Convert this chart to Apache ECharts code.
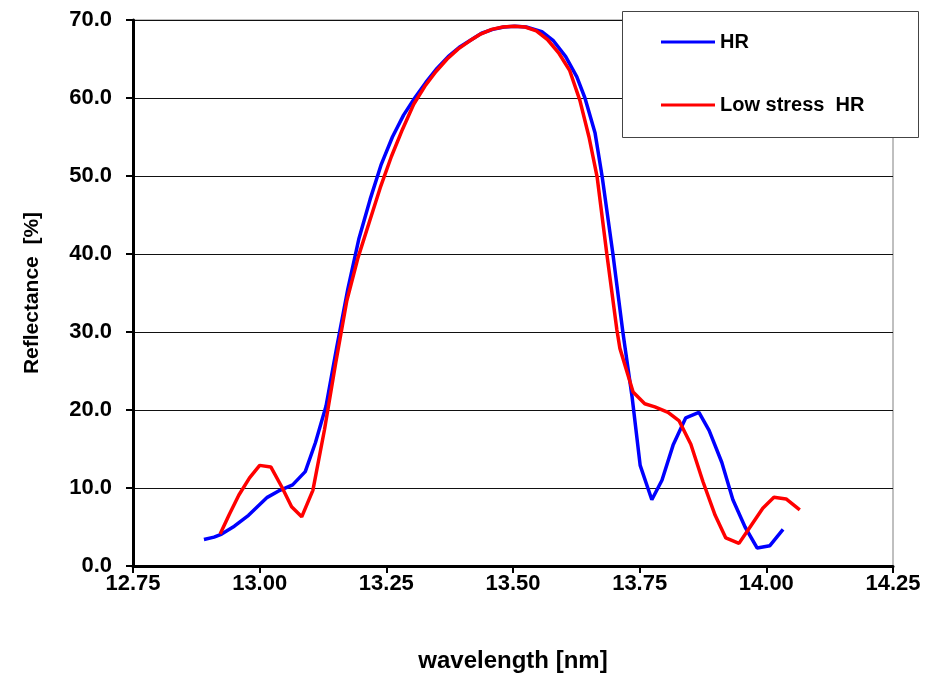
<!DOCTYPE html>
<html>
<head>
<meta charset="utf-8">
<script src="https://cdn.jsdelivr.net/npm/echarts@6/dist/echarts.min.js"></script>
<style>
  html, body { margin: 0; padding: 0; background: #fff; }
  #chart { width: 936px; height: 674px; }
</style>
</head>
<body>
<div id="chart"></div>
<script>
// wavelength [nm] / reflectance [%]
const hrWavelength = [
  12.890, 12.910, 12.925, 12.950, 12.978, 13.015, 13.040, 13.065, 13.090, 13.110,
  13.131, 13.152, 13.174, 13.196, 13.218, 13.240, 13.262, 13.284, 13.306, 13.328,
  13.350, 13.372, 13.394, 13.416, 13.438, 13.460, 13.482, 13.504, 13.526, 13.557,
  13.579, 13.604, 13.626, 13.642, 13.662, 13.676, 13.697, 13.717, 13.735, 13.751,
  13.774, 13.794, 13.816, 13.841, 13.867, 13.887, 13.912, 13.934, 13.958, 13.982,
  14.007, 14.033
];
const hrReflectance = [
  3.4, 3.7, 4.1, 5.1, 6.5, 8.8, 9.7, 10.4, 12.1, 15.8,
  20.5, 28.0, 35.5, 42.0, 47.0, 51.5, 55.0, 57.8, 60.0, 62.0,
  63.8, 65.3, 66.5, 67.4, 68.3, 68.8, 69.1, 69.2, 69.1, 68.5,
  67.4, 65.3, 62.7, 60.0, 55.5, 49.9, 40.1, 29.9, 21.7, 12.9,
  8.5, 11.0, 15.5, 19.0, 19.7, 17.4, 13.3, 8.5, 5.0, 2.3,
  2.6, 4.7
];

const lowStressWavelength = [
  12.922, 12.940, 12.959, 12.980, 13.000, 13.022, 13.044, 13.063, 13.083, 13.105,
  13.128, 13.150, 13.172, 13.194, 13.216, 13.238, 13.260, 13.282, 13.304, 13.326,
  13.348, 13.370, 13.392, 13.414, 13.436, 13.458, 13.480, 13.502, 13.524, 13.546,
  13.568, 13.590, 13.612, 13.632, 13.650, 13.666, 13.685, 13.705, 13.711, 13.737,
  13.760, 13.780, 13.806, 13.828, 13.851, 13.875, 13.899, 13.920, 13.946, 13.969,
  13.993, 14.015, 14.039, 14.066
];
const lowStressReflectance = [
  4.1, 6.6, 9.1, 11.3, 12.9, 12.7, 10.1, 7.6, 6.3, 9.7,
  17.5, 26.0, 34.0, 39.5, 44.0, 48.5, 52.5, 56.0, 59.2, 61.5,
  63.4, 65.0, 66.3, 67.3, 68.2, 68.8, 69.1, 69.2, 69.1, 68.6,
  67.5, 65.8, 63.5, 59.7, 55.0, 49.9, 40.1, 30.3, 27.9, 22.3,
  20.8, 20.4, 19.7, 18.6, 15.6, 10.8, 6.5, 3.6, 2.9, 5.1,
  7.4, 8.8, 8.6, 7.2
];

const seriesNames = ['HR', 'Low stress  HR'];

const chart = echarts.init(document.getElementById('chart'));

const option = {
  backgroundColor: '#fff',
  animation: false,
  grid: {
    left: 133,
    right: 43,
    top: 20,
    bottom: 108,
    outerBoundsMode: 'none',
    containLabel: false,
    show: true,
    borderColor: '#808080',
    borderWidth: 1
  },
  legend: {
    data: seriesNames.map(n => ({ name: n, icon: 'rect' })),
    orient: 'vertical',
    left: 661,
    top: 32,
    padding: 0,
    itemWidth: 54,
    itemHeight: 3,
    itemGap: 43,
    z: 12,
    textStyle: {
      fontFamily: 'Liberation Sans, Arial',
      fontWeight: 'bold',
      fontSize: 20,
      lineHeight: 20,
      color: '#000'
    }
  },
  graphic: [
    {
      type: 'rect',
      shape: { x: 622.5, y: 11.5, width: 296, height: 126 },
      style: { fill: '#fff', stroke: '#444', lineWidth: 1 },
      z: 10
    }
  ],
  xAxis: {
    type: 'value',
    min: 12.75,
    max: 14.25,
    interval: 0.25,
    name: 'wavelength [nm]',
    nameLocation: 'middle',
    nameGap: 83,
    nameTextStyle: {
      fontFamily: 'Liberation Sans Narrow, Arial Narrow, Liberation Sans',
      fontWeight: 'bold',
      fontSize: 24,
      color: '#000'
    },
    axisLine: { show: true, onZero: false, lineStyle: { color: '#000', width: 3 } },
    axisTick: { show: true, length: 7, lineStyle: { color: '#000', width: 2 } },
    axisLabel: {
      margin: 7,
      formatter: v => v.toFixed(2),
      fontFamily: 'Liberation Sans Narrow, Arial Narrow, Liberation Sans',
      fontWeight: 'bold',
      fontSize: 22,
      color: '#000'
    },
    splitLine: { show: false }
  },
  yAxis: {
    type: 'value',
    min: 0,
    max: 70,
    interval: 10,
    name: 'Reflectance  [%]',
    nameLocation: 'middle',
    nameGap: 90,
    nameTextStyle: {
      fontFamily: 'Liberation Sans, Arial',
      fontWeight: 'bold',
      fontSize: 21,
      color: '#000'
    },
    axisLine: { show: true, lineStyle: { color: '#000', width: 3 } },
    axisTick: { show: true, length: 7, lineStyle: { color: '#000', width: 2 } },
    axisLabel: {
      margin: 21,
      formatter: v => v.toFixed(1),
      fontFamily: 'Liberation Sans, Arial',
      fontWeight: 'bold',
      fontSize: 22,
      color: '#000'
    },
    splitLine: { show: true, lineStyle: { color: '#111', width: 1 } }
  },
  series: [
    {
      name: seriesNames[0],
      type: 'line',
      data: hrWavelength.map((x, i) => [x, hrReflectance[i]]),
      symbol: 'none',
      lineStyle: { color: '#0000ff', width: 3.5 },
      itemStyle: { color: '#0000ff' },
      z: 3
    },
    {
      name: seriesNames[1],
      type: 'line',
      data: lowStressWavelength.map((x, i) => [x, lowStressReflectance[i]]),
      symbol: 'none',
      lineStyle: { color: '#ff0000', width: 3.5 },
      itemStyle: { color: '#ff0000' },
      z: 4
    }
  ]
};

chart.setOption(option);
</script>
</body>
</html>
